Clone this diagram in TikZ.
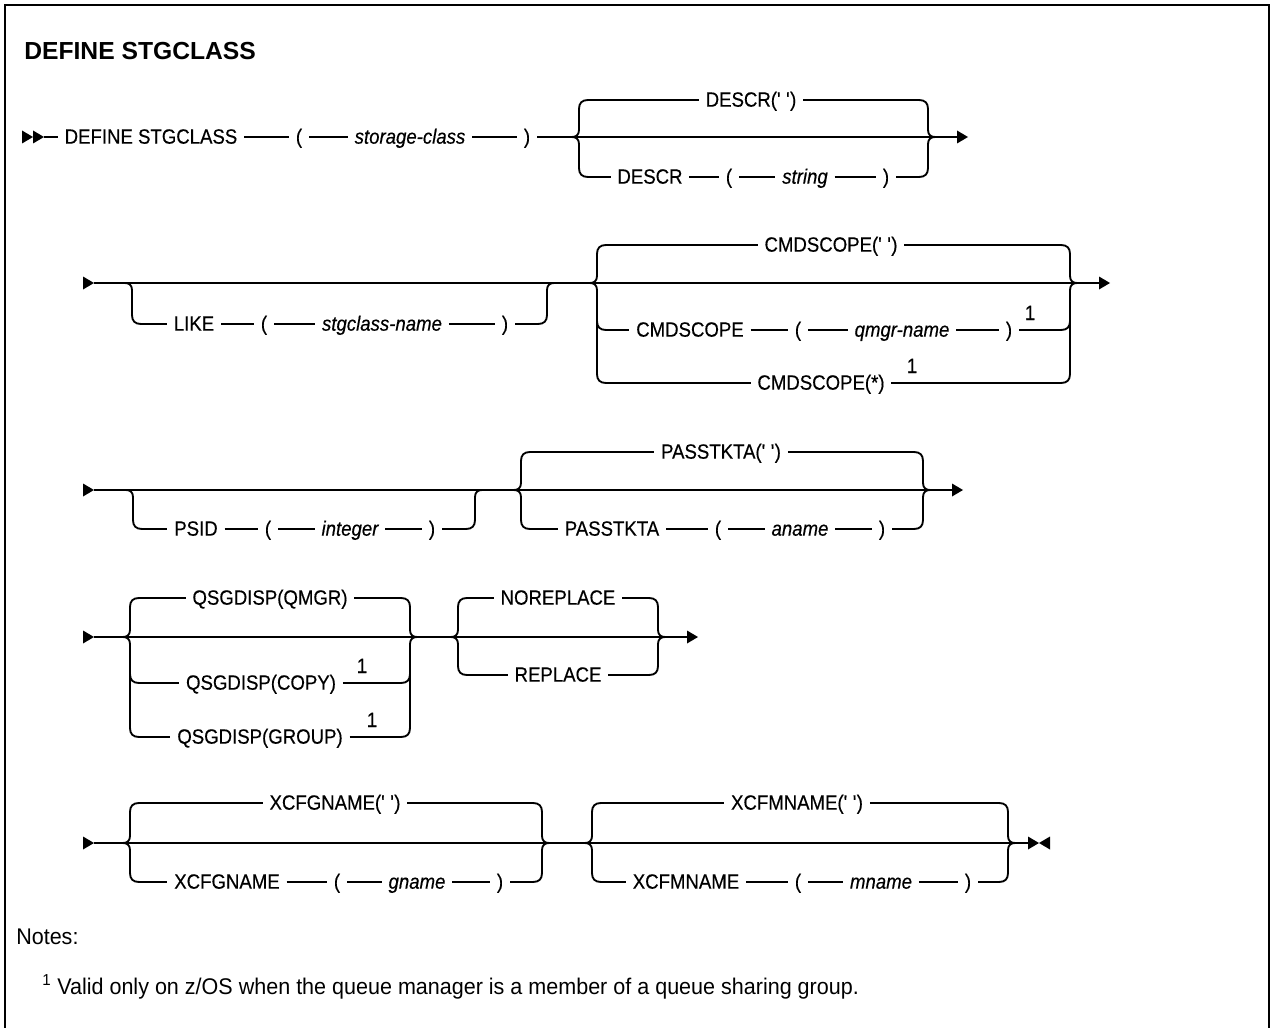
\documentclass[tikz,border=0pt]{standalone}
\usepackage{fontspec}
\setmainfont{Liberation Sans}
\newfontfamily\railfont[FakeStretch=0.9,FakeBold=0.4]{Liberation Sans}
\newfontfamily\notefont[FakeStretch=0.95]{Liberation Sans}
\newcommand\sq{\textquotesingle}
% rail pieces: left/right braces with rounded corners and a small cusp on the main line
\newcommand\lbr[4]{% x, top, main, bottom
  \draw[rail] (#1+9,#2) .. controls (#1+3,#2) and (#1,#2+3) .. (#1,#2+9) -- (#1,#3-7) .. controls (#1,#3-2) and (#1-3,#3) .. (#1-7,#3);
  \draw[rail] (#1-7,#3) .. controls (#1-3,#3) and (#1,#3+2) .. (#1,#3+7) -- (#1,#4-9) .. controls (#1,#4-3) and (#1+3,#4) .. (#1+9,#4);}
\newcommand\rbr[4]{% x, top, main, bottom
  \draw[rail] (#1-9,#2) .. controls (#1-3,#2) and (#1,#2+3) .. (#1,#2+9) -- (#1,#3-7) .. controls (#1,#3-2) and (#1+3,#3) .. (#1+7,#3);
  \draw[rail] (#1+7,#3) .. controls (#1+3,#3) and (#1,#3+2) .. (#1,#3+7) -- (#1,#4-9) .. controls (#1,#4-3) and (#1-3,#4) .. (#1-9,#4);}
\newcommand\lbot[3]{% x, main, bottom
  \draw[rail] (#1-7,#2) .. controls (#1-3,#2) and (#1,#2+2) .. (#1,#2+7) -- (#1,#3-9) .. controls (#1,#3-3) and (#1+3,#3) .. (#1+9,#3);}
\newcommand\rbot[3]{% x, main, bottom
  \draw[rail] (#1+7,#2) .. controls (#1+3,#2) and (#1,#2+2) .. (#1,#2+7) -- (#1,#3-9) .. controls (#1,#3-3) and (#1-3,#3) .. (#1-9,#3);}
\newcommand\lmid[2]{\draw[rail] (#1,#2-9) .. controls (#1,#2-3) and (#1+3,#2) .. (#1+9,#2);}
\newcommand\rmid[2]{\draw[rail] (#1,#2-9) .. controls (#1,#2-3) and (#1-3,#2) .. (#1-9,#2);}
\newcommand\tipR[2]{\fill (#1,#2-6.5) -- (#1+11,#2) -- (#1,#2+6.5) -- cycle;}
\newcommand\tipL[2]{\fill (#1,#2-6.5) -- (#1-11,#2) -- (#1,#2+6.5) -- cycle;}
\begin{document}
\begin{tikzpicture}[x=0.75pt,y=-0.75pt,
  rail/.style={line width=1.4pt},
  tx/.style={font=\railfont\fontsize{15.5}{17}\selectfont, inner xsep=5pt, inner ysep=0pt, text height=13pt, text depth=3pt},
  var/.style={tx, font=\railfont\fontsize{15.5}{17}\selectfont\itshape},
  sup/.style={font=\railfont\fontsize{15.5}{17}\selectfont, inner sep=0pt, anchor=base},
]
\useasboundingbox (0,0) rectangle (1273,1027);
% frame
\draw[line width=1.5pt] (5,1040) -- (5,5) -- (1269,5) -- (1269,1040);

\node[anchor=base west, inner sep=0pt, font=\bfseries\fontsize{18.5}{22}\selectfont] (title) at (24,60) {DEFINE STGCLASS};

% ---------- row 1 ----------
\tipR{22}{137}\tipR{33}{137}
\coordinate (s1) at (44,137);
\coordinate (e1) at (957,137);
\node[tx] (def) at (151,137) {DEFINE STGCLASS};
\node[tx] (lp1) at (299,137) {(};
\node[var] (sc) at (410,137) {storage-class};
\node[tx] (rp1) at (527,137) {)};
\draw[rail] (s1) -- (def.west) (def.east) -- (lp1.west) (lp1.east) -- (sc.west)
  (sc.east) -- (rp1.west) (rp1.east) -- (e1);
\tipR{957}{137}
\lbr{579}{100}{137}{177}\rbr{928}{100}{137}{177}
\node[tx] (dq) at (751,100) {DESCR(\sq\ \sq)};
\draw[rail] (588,100) -- (dq.west) (dq.east) -- (919,100);
\node[tx] (d1) at (650,177) {DESCR};
\node[tx] (d2) at (729,177) {(};
\node[var] (d3) at (805,177) {string};
\node[tx] (d4) at (886,177) {)};
\draw[rail] (588,177) -- (d1.west) (d1.east) -- (d2.west) (d2.east) -- (d3.west)
  (d3.east) -- (d4.west) (d4.east) -- (919,177);

% ---------- row 2 ----------
\tipR{83}{283}
\coordinate (s2) at (94,283);
\coordinate (e2) at (1099,283);
\draw[rail] (s2) -- (e2);
\tipR{1099}{283}
\lbot{132}{283}{324}\rbot{547}{283}{324}
\node[tx] (lk1) at (194,324) {LIKE};
\node[tx] (lk2) at (264,324) {(};
\node[var] (lk3) at (382,324) {stgclass-name};
\node[tx] (lk4) at (505,324) {)};
\draw[rail] (141,324) -- (lk1.west) (lk1.east) -- (lk2.west) (lk2.east) -- (lk3.west)
  (lk3.east) -- (lk4.west) (lk4.east) -- (538,324);
\lbr{597}{245}{283}{383}\lmid{597}{330}
\rbr{1070}{245}{283}{383}\rmid{1070}{330}
\node[tx] (cq) at (831,245) {CMDSCOPE(\sq\ \sq)};
\draw[rail] (606,245) -- (cq.west) (cq.east) -- (1061,245);
\node[tx] (c1) at (690,330) {CMDSCOPE};
\node[tx] (c2) at (798,330) {(};
\node[var] (c3) at (902,330) {qmgr-name};
\node[tx] (c4) at (1009,330) {)};
\node[sup] (n1) at (1030,320) {1};
\draw[rail] (606,330) -- (c1.west) (c1.east) -- (c2.west) (c2.east) -- (c3.west)
  (c3.east) -- (c4.west) (c4.east) -- (1061,330);
\node[tx] (cs) at (821,383) {CMDSCOPE(*)};
\node[sup] (n2) at (912,373) {1};
\draw[rail] (606,383) -- (cs.west) (cs.east) -- (1061,383);

% ---------- row 3 ----------
\tipR{83}{490}
\coordinate (s3) at (94,490);
\coordinate (e3) at (952,490);
\draw[rail] (s3) -- (e3);
\tipR{952}{490}
\lbot{133}{490}{529}\rbot{475}{490}{529}
\node[tx] (ps1) at (196,529) {PSID};
\node[tx] (ps2) at (268,529) {(};
\node[var] (ps3) at (350,529) {integer};
\node[tx] (ps4) at (432,529) {)};
\draw[rail] (142,529) -- (ps1.west) (ps1.east) -- (ps2.west) (ps2.east) -- (ps3.west)
  (ps3.east) -- (ps4.west) (ps4.east) -- (466,529);
\lbr{521}{452}{490}{529}\rbr{923}{452}{490}{529}
\node[tx] (pq) at (721,452) {PASSTKTA(\sq\ \sq)};
\draw[rail] (530,452) -- (pq.west) (pq.east) -- (914,452);
\node[tx] (pa1) at (612,529) {PASSTKTA};
\node[tx] (pa2) at (718,529) {(};
\node[var] (pa3) at (800,529) {aname};
\node[tx] (pa4) at (882,529) {)};
\draw[rail] (530,529) -- (pa1.west) (pa1.east) -- (pa2.west) (pa2.east) -- (pa3.west)
  (pa3.east) -- (pa4.west) (pa4.east) -- (914,529);

% ---------- row 4 ----------
\tipR{83}{637}
\coordinate (s4) at (94,637);
\coordinate (e4) at (687,637);
\draw[rail] (s4) -- (e4);
\tipR{687}{637}
\lbr{130}{598}{637}{737}\lmid{130}{683}
\rbr{410}{598}{637}{737}\rmid{410}{683}
\node[tx] (qq) at (270,598) {QSGDISP(QMGR)};
\draw[rail] (139,598) -- (qq.west) (qq.east) -- (401,598);
\node[tx] (qc) at (261,683) {QSGDISP(COPY)};
\node[sup] (n3) at (362,673) {1};
\draw[rail] (139,683) -- (qc.west) (qc.east) -- (401,683);
\node[tx] (qg) at (260,737) {QSGDISP(GROUP)};
\node[sup] (n4) at (372,727) {1};
\draw[rail] (139,737) -- (qg.west) (qg.east) -- (401,737);
\lbr{458}{598}{637}{675}\rbr{658}{598}{637}{675}
\node[tx] (nr) at (558,598) {NOREPLACE};
\draw[rail] (467,598) -- (nr.west) (nr.east) -- (649,598);
\node[tx] (rp) at (558,675) {REPLACE};
\draw[rail] (467,675) -- (rp.west) (rp.east) -- (649,675);

% ---------- row 5 ----------
\tipR{83}{843}
\coordinate (s5) at (94,843);
\coordinate (e5) at (1028,843);
\draw[rail] (s5) -- (e5);
\tipR{1028}{843}\tipL{1050}{843}
\lbr{130}{803}{843}{882}\rbr{542}{803}{843}{882}
\node[tx] (xg) at (335,803) {XCFGNAME(\sq\ \sq)};
\draw[rail] (139,803) -- (xg.west) (xg.east) -- (533,803);
\node[tx] (xg1) at (227,882) {XCFGNAME};
\node[tx] (xg2) at (337,882) {(};
\node[var] (xg3) at (417,882) {gname};
\node[tx] (xg4) at (500,882) {)};
\draw[rail] (139,882) -- (xg1.west) (xg1.east) -- (xg2.west) (xg2.east) -- (xg3.west)
  (xg3.east) -- (xg4.west) (xg4.east) -- (533,882);
\lbr{592}{803}{843}{882}\rbr{1008}{803}{843}{882}
\node[tx] (xm) at (797,803) {XCFMNAME(\sq\ \sq)};
\draw[rail] (601,803) -- (xm.west) (xm.east) -- (999,803);
\node[tx] (xm1) at (686,882) {XCFMNAME};
\node[tx] (xm2) at (798,882) {(};
\node[var] (xm3) at (881,882) {mname};
\node[tx] (xm4) at (968,882) {)};
\draw[rail] (601,882) -- (xm1.west) (xm1.east) -- (xm2.west) (xm2.east) -- (xm3.west)
  (xm3.east) -- (xm4.west) (xm4.east) -- (999,882);

% ---------- notes ----------
\node[anchor=base west, inner sep=0pt, font=\notefont\fontsize{17}{20}\selectfont] (notes) at (16,944) {Notes:};
\node[anchor=base west, inner sep=0pt, font=\notefont\fontsize{17}{20}\selectfont] (fn) at (42,994)
  {\textsuperscript{1} Valid only on z/OS when the queue manager is a member of a queue sharing group.};
\end{tikzpicture}
\end{document}
